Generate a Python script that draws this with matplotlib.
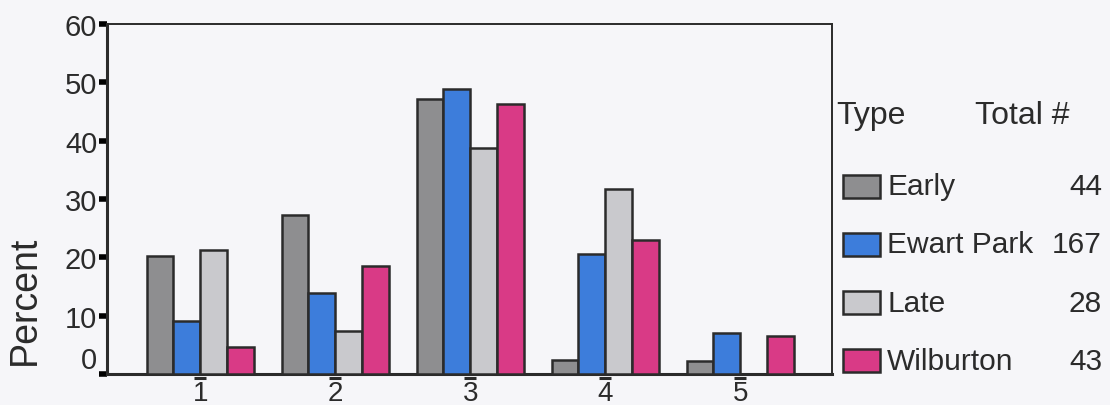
import numpy as np
import matplotlib
matplotlib.use("Agg")
import matplotlib.pyplot as plt
import matplotlib.transforms as mtransforms
from matplotlib.patches import Rectangle

plt.rcParams["font.family"] = ["Liberation Sans", "DejaVu Sans"]

# data
groups = ["1", "2", "3", "4", "5"]
types = ["Early", "Ewart Park", "Late", "Wilburton"]
totals = [44, 167, 28, 43]
early = [20.3, 27.3, 47.2, 2.4, 2.3]
ewart = [9.1, 13.9, 48.9, 20.5, 7.0]
late = [21.3, 7.3, 38.8, 31.8, 0.0]
wilburton = [4.7, 18.5, 46.3, 22.9, 6.5]
series = [early, ewart, late, wilburton]
colors = ["#8e8e90", "#3d7ddb", "#c9c9cd", "#d93a86"]
ink = "#2b2b2b"
bg = "#f6f6f9"

fig = plt.figure(figsize=(11.1, 4.06), dpi=100, facecolor=bg)
ax = fig.add_axes([107/1110, 1-375/406, (832-107)/1110, (375-25)/406])
ax.set_facecolor(bg)

x = np.arange(1, len(groups)+1)
w = 0.198
for i, vals in enumerate(series):
    lw = [1.8 if v > 0 else 0 for v in vals]  # no outline for empty bars
    ax.bar(x + (i-1.5)*w, vals, width=w, color=colors[i], edgecolor=ink,
           linewidth=lw, zorder=3)

ax.set_xlim(0.31, 5.68)
ax.set_ylim(0, 60)
ax.set_yticks(range(0, 61, 10))
ax.set_xticks(x)
ax.set_xticklabels(groups)

for s in ["left", "bottom"]:
    ax.spines[s].set_linewidth(2.2)
    ax.spines[s].set_color(ink)
for s in ["top", "right"]:
    ax.spines[s].set_linewidth(1.4)
    ax.spines[s].set_color(ink)

ax.tick_params(axis="y", direction="out", length=6, width=4, color="black",
               labelsize=21, labelcolor=ink, pad=1)
ax.tick_params(axis="x", length=0, labelsize=20, labelcolor=ink, pad=4)

# small dash tick marks just under the axis, above each group number
dash_off = mtransforms.ScaledTranslation(0, -4/100, fig.dpi_scale_trans)
ax.plot(x, np.zeros(len(x)), ls="none", marker="_", ms=9, mew=2.2, color=ink,
        transform=ax.get_xaxis_transform() + dash_off, clip_on=False, zorder=4)

# the "0" label sits higher than its tick in the reference
lbl0 = ax.get_yticklabels()[0]
lbl0.set_transform(lbl0.get_transform() +
                   mtransforms.ScaledTranslation(0, 17/100, fig.dpi_scale_trans))

fig.text(25/1110, 1-300/406, "Percent", rotation=90, fontsize=27,
         color=ink, ha="center", va="center")

# legend block on the right
fig.text(836/1110, 1-116/406, "Type", fontsize=23, color=ink, va="center")
fig.text(975/1110, 1-116/406, "Total #", fontsize=23, color=ink, va="center")
for i, (name, tot) in enumerate(zip(types, totals)):
    yc = 187 + 58.3*i
    fig.patches.append(Rectangle((843/1110, 1-(yc+11.5)/406), 37/1110, 23/406,
                                 transform=fig.transFigure, facecolor=colors[i],
                                 edgecolor=ink, linewidth=1.8))
    fig.text(887/1110, 1-yc/406, name, fontsize=21.5, color=ink, va="center")
    fig.text(1102/1110, 1-yc/406, str(tot), fontsize=21.5, color=ink,
             va="center", ha="right")

fig.savefig("out.png", dpi=100, facecolor=bg)
